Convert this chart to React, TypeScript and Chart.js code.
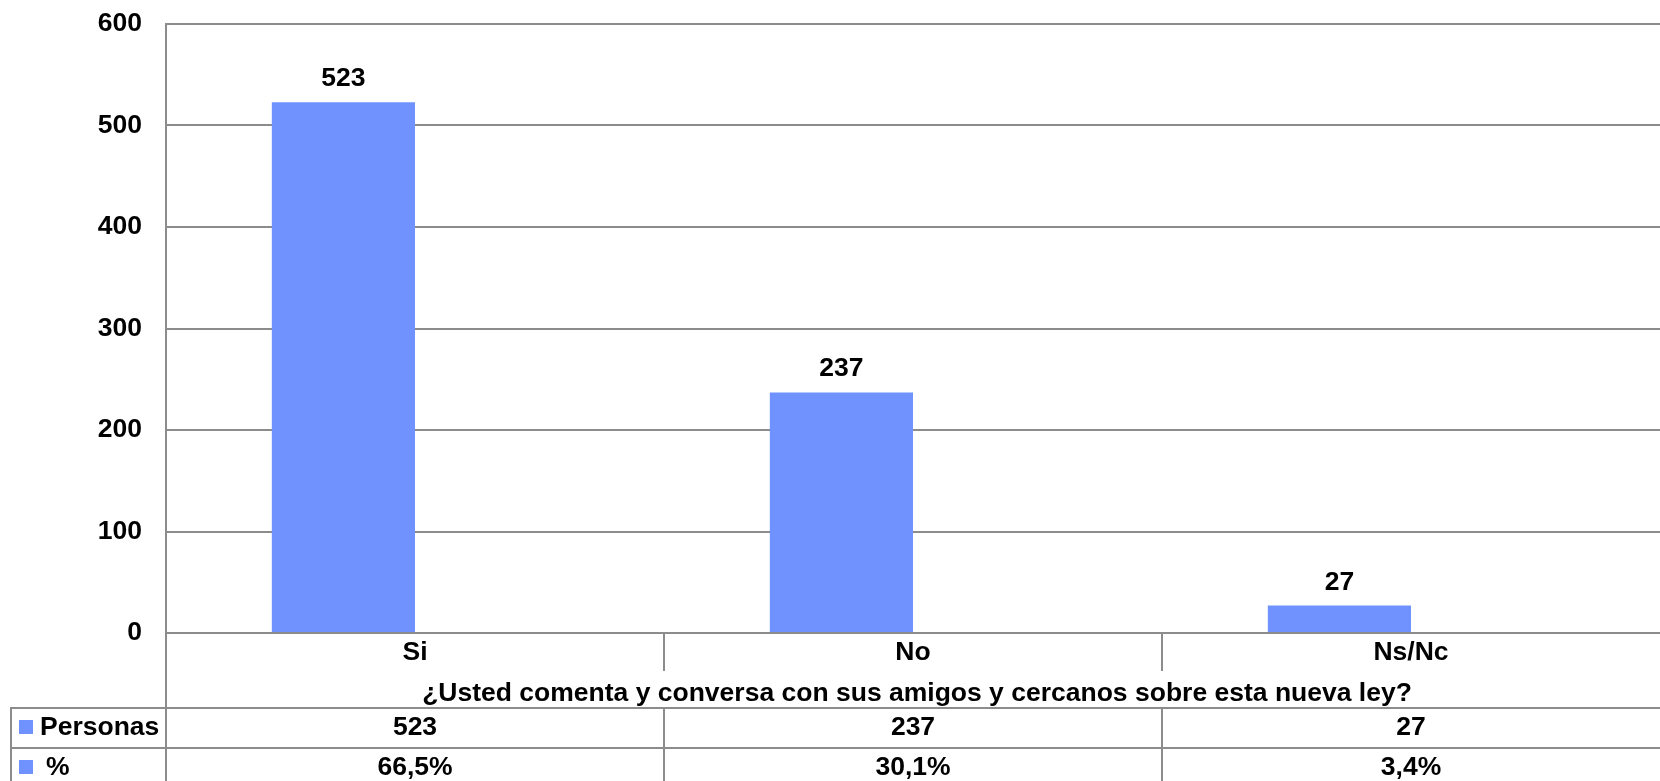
import React, { useEffect, useRef } from "react";
import { Chart, registerables } from "chart.js";

Chart.register(...registerables);

const categories = ["Si", "No", "Ns/Nc"];
const personasValues = [523, 237, 27];
const percentValues = [66.5, 30.1, 3.4];
const percentLabels = ["66,5%", "30,1%", "3,4%"];
const seriesNames = ["Personas", "%"];
const axisTitle = "¿Usted comenta y conversa con sus amigos y cercanos sobre esta nueva ley?";
const yMin = 0;
const yMax = 600;
const yStep = 100;

const BAR_COLOR = "#7092FF";
const LINE_COLOR = "#8c8c8c";
const FONT_FAMILY = "'Liberation Sans', Arial, sans-serif";
const FONT_SIZE = 26.5;

const tablePlugin = {
  id: "excelTable",
  afterDraw(chart: any) {
    const { ctx, chartArea, scales } = chart;
    const x = scales.x;
    const left = chartArea.left;
    const right = chartArea.right;
    const bottom = chartArea.bottom;
    const H = chart.height;
    const catW = x.getPixelForValue(1) - x.getPixelForValue(0);
    const centers = categories.map((_, i) => x.getPixelForValue(i));
    const dividers = centers.slice(0, -1).map((c) => c + catW / 2);

    const titleLineY = bottom + 75;
    const row2Y = titleLineY + 40;
    const tableLeft = 11;

    ctx.save();
    ctx.strokeStyle = LINE_COLOR;
    ctx.lineWidth = 2;
    ctx.beginPath();
    ctx.moveTo(tableLeft, titleLineY);
    ctx.lineTo(right, titleLineY);
    ctx.moveTo(tableLeft, row2Y);
    ctx.lineTo(right, row2Y);
    ctx.moveTo(tableLeft, titleLineY - 1);
    ctx.lineTo(tableLeft, H);
    ctx.moveTo(left, bottom);
    ctx.lineTo(left, H);
    dividers.forEach((d) => {
      ctx.moveTo(d, bottom);
      ctx.lineTo(d, bottom + 38);
      ctx.moveTo(d, titleLineY);
      ctx.lineTo(d, H);
    });
    ctx.stroke();

    ctx.fillStyle = "#000";
    ctx.font = `bold ${FONT_SIZE}px ${FONT_FAMILY}`;
    ctx.textAlign = "center";
    ctx.textBaseline = "middle";
    categories.forEach((c, i) => ctx.fillText(c, centers[i], bottom + 20));
    ctx.fillText(axisTitle, (left + right) / 2 + 4, bottom + 61);
    personasValues.forEach((v, i) => ctx.fillText(String(v), centers[i], titleLineY + 20));
    percentLabels.forEach((v, i) => ctx.fillText(v, centers[i], row2Y + 20));

    ctx.fillStyle = BAR_COLOR;
    ctx.fillRect(19, titleLineY + 12, 14, 14);
    ctx.fillRect(19, row2Y + 12, 14, 14);
    ctx.fillStyle = "#000";
    ctx.textAlign = "left";
    ctx.fillText(seriesNames[0], 40, titleLineY + 20);
    ctx.fillText(seriesNames[1], 46, row2Y + 20);

    const meta = chart.getDatasetMeta(0);
    ctx.textAlign = "center";
    ctx.textBaseline = "alphabetic";
    meta.data.forEach((el: any, i: number) => {
      ctx.fillText(String(personasValues[i]), el.x, el.y - 16);
    });
    ctx.restore();
  },
};

export default function App() {
  const canvasRef = useRef<HTMLCanvasElement | null>(null);

  useEffect(() => {
    if (!canvasRef.current) return;
    const chart = new Chart(canvasRef.current, {
      type: "bar",
      data: {
        labels: categories,
        datasets: [
          {
            label: seriesNames[0],
            data: personasValues,
            backgroundColor: BAR_COLOR,
            borderWidth: 0,
            barPercentage: 1,
            categoryPercentage: 0.575,
          },
          {
            label: seriesNames[1],
            data: percentValues,
            backgroundColor: "rgba(0,0,0,0)",
            borderWidth: 0,
            barPercentage: 1,
            categoryPercentage: 0.575,
          },
        ],
      },
      options: {
        responsive: false,
        animation: false,
        devicePixelRatio: 1,
        layout: { autoPadding: false, padding: { top: 24, bottom: 148, left: 0, right: 0 } },
        plugins: {
          legend: { display: false },
          tooltip: { enabled: false },
          title: { display: false },
        },
        scales: {
          x: {
            display: false,
          },
          y: {
            min: yMin,
            max: yMax,
            ticks: {
              stepSize: yStep,
              color: "#000",
              padding: 24,
              font: { family: FONT_FAMILY, size: FONT_SIZE, weight: "bold" },
            },
            grid: { color: LINE_COLOR, lineWidth: 2, drawTicks: false },
            border: { color: LINE_COLOR, width: 2 },
            afterFit(scale: any) {
              scale.width = 166;
              scale.paddingTop = 0;
              scale.paddingBottom = 0;
            },
          },
        },
      },
      plugins: [tablePlugin],
    });
    return () => chart.destroy();
  }, []);

  return (
    <div style={{ position: "absolute", left: 0, top: 0, width: 1660, height: 781, background: "#fff" }}>
      <canvas ref={canvasRef} width={1660} height={781} />
    </div>
  );
}
